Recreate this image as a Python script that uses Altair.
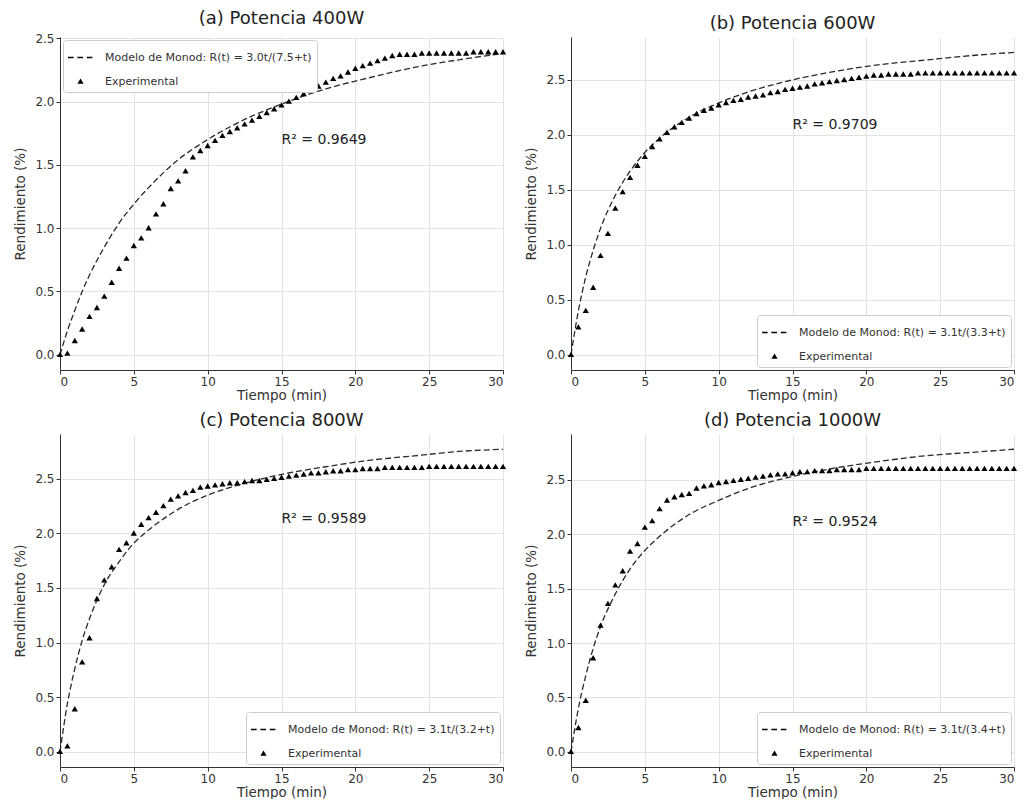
import altair as alt
import pandas as pd

# ---------------- data ----------------
t_exp = [0, 0.5, 1, 1.5, 2, 2.5, 3, 3.5, 4, 4.5, 5, 5.5, 6, 6.5, 7, 7.5, 8, 8.5, 9, 9.5,
         10, 10.5, 11, 11.5, 12, 12.5, 13, 13.5, 14, 14.5, 15, 15.5, 16, 16.5, 17, 17.5,
         18, 18.5, 19, 19.5, 20, 20.5, 21, 21.5, 22, 22.5, 23, 23.5, 24, 24.5, 25, 25.5,
         26, 26.5, 27, 27.5, 28, 28.5, 29, 29.5, 30]

exp_a = [0.00, 0.01, 0.11, 0.20, 0.30, 0.37, 0.46, 0.57, 0.68, 0.76, 0.86, 0.92, 1.00, 1.11,
         1.19, 1.31, 1.37, 1.45, 1.56, 1.61, 1.65, 1.69, 1.73, 1.76, 1.79, 1.82, 1.85, 1.88,
         1.91, 1.94, 1.97, 2.00, 2.03, 2.06, 2.09, 2.12, 2.15, 2.18, 2.20, 2.23, 2.26, 2.28,
         2.30, 2.32, 2.34, 2.36, 2.37, 2.37, 2.37, 2.38, 2.38, 2.38, 2.38, 2.38, 2.38, 2.38,
         2.39, 2.39, 2.39, 2.39, 2.39]
exp_b = [0.00, 0.25, 0.40, 0.61, 0.90, 1.10, 1.33, 1.48, 1.61, 1.72, 1.80, 1.89, 1.96, 2.02,
         2.07, 2.11, 2.15, 2.19, 2.22, 2.24, 2.27, 2.29, 2.31, 2.32, 2.34, 2.35, 2.36, 2.38,
         2.39, 2.41, 2.42, 2.43, 2.44, 2.46, 2.47, 2.48, 2.49, 2.50, 2.51, 2.52, 2.53, 2.54,
         2.54, 2.55, 2.55, 2.55, 2.55, 2.56, 2.56, 2.56, 2.56, 2.56, 2.56, 2.56, 2.56, 2.56,
         2.56, 2.56, 2.56, 2.56, 2.56]
exp_c = [0.00, 0.05, 0.39, 0.82, 1.04, 1.40, 1.57, 1.69, 1.85, 1.91, 2.00, 2.08, 2.14, 2.19,
         2.25, 2.31, 2.34, 2.37, 2.39, 2.42, 2.43, 2.44, 2.45, 2.46, 2.46, 2.47, 2.48, 2.48,
         2.49, 2.50, 2.51, 2.52, 2.53, 2.54, 2.55, 2.55, 2.56, 2.57, 2.57, 2.58, 2.58, 2.59,
         2.59, 2.59, 2.60, 2.60, 2.60, 2.60, 2.60, 2.60, 2.61, 2.61, 2.61, 2.61, 2.61, 2.61,
         2.61, 2.61, 2.61, 2.61, 2.61]
exp_d = [0.00, 0.22, 0.47, 0.86, 1.16, 1.36, 1.53, 1.66, 1.84, 1.91, 2.06, 2.12, 2.23, 2.31,
         2.34, 2.36, 2.37, 2.42, 2.44, 2.45, 2.47, 2.48, 2.49, 2.50, 2.51, 2.52, 2.53, 2.54,
         2.55, 2.55, 2.56, 2.57, 2.57, 2.58, 2.58, 2.58, 2.59, 2.59, 2.59, 2.59, 2.60, 2.60,
         2.60, 2.60, 2.60, 2.60, 2.60, 2.60, 2.60, 2.60, 2.60, 2.60, 2.60, 2.60, 2.60, 2.60,
         2.60, 2.60, 2.60, 2.60, 2.60]

t_model = [0, 0.5, 1, 1.5, 2, 3, 4, 5, 6, 8, 10, 12, 15, 18, 21, 24, 27, 30]
model_a = [0, 0.19, 0.35, 0.50, 0.63, 0.85, 1.04, 1.19, 1.32, 1.54, 1.70, 1.83, 1.98, 2.10, 2.19, 2.27, 2.33, 2.38]
model_b = [0, 0.40, 0.71, 0.95, 1.15, 1.45, 1.67, 1.84, 1.97, 2.16, 2.29, 2.39, 2.50, 2.58, 2.64, 2.68, 2.72, 2.75]
model_c = [0, 0.44, 0.76, 1.02, 1.22, 1.53, 1.74, 1.91, 2.03, 2.22, 2.35, 2.44, 2.54, 2.61, 2.67, 2.71, 2.75, 2.77]
model_d = [0, 0.40, 0.70, 0.95, 1.15, 1.45, 1.68, 1.85, 1.98, 2.18, 2.31, 2.42, 2.53, 2.61, 2.67, 2.72, 2.75, 2.78]

titles = ["(a) Potencia 400W", "(b) Potencia 600W", "(c) Potencia 800W", "(d) Potencia 1000W"]
model_labels = ["Modelo de Monod: R(t) = 3.0t/(7.5+t)",
                "Modelo de Monod: R(t) = 3.1t/(3.3+t)",
                "Modelo de Monod: R(t) = 3.1t/(3.2+t)",
                "Modelo de Monod: R(t) = 3.1t/(3.4+t)"]
r2_texts = ["R² = 0.9649", "R² = 0.9709", "R² = 0.9589", "R² = 0.9524"]
r2_x = [15, 15, 15, 15]
r2_y = [1.70, 2.09, 2.13, 2.11]
y_domains = [[-0.12, 2.51], [-0.138, 2.89], [-0.139, 2.91], [-0.139, 2.92]]
legend_orients = ["top-left", "bottom-right", "bottom-right", "bottom-right"]

x_ticks = [0, 5, 10, 15, 20, 25, 30]
y_ticks = [0.0, 0.5, 1.0, 1.5, 2.0, 2.5]

DASH = "M-1,-0.055H-0.55V0.055H-1Z M-0.25,-0.055H0.2V0.055H-0.25Z M0.5,-0.055H0.95V0.055H0.5Z"
TRI = "M0,-0.25L0.25,0.18L-0.25,0.18Z"

FONT = "DejaVu Sans"
W, H = 443, 333


def panel(i, exp, model):
    xs = alt.Scale(domain=[0, 30], nice=False)
    ys = alt.Scale(domain=y_domains[i], nice=False)
    xa = alt.Axis(title="Tiempo (min)", values=x_ticks, format="d")
    ya = alt.Axis(title="Rendimiento (%)", values=y_ticks, format=".1f")

    df_m = pd.DataFrame({"t": t_model, "R": model})
    df_e = pd.DataFrame({"t": t_exp, "R": exp, "serie": ["Experimental"] * len(t_exp)})
    df_t = pd.DataFrame({"t": [r2_x[i]], "R": [r2_y[i]], "label": [r2_texts[i]]})

    line = alt.Chart(df_m).mark_line(
        strokeDash=[6, 3], color="#2a2a2a", strokeWidth=1.3, interpolate="monotone"
    ).encode(x=alt.X("t:Q", scale=xs, axis=xa), y=alt.Y("R:Q", scale=ys, axis=ya))

    pts = alt.Chart(df_e).mark_point(
        filled=True, color="black", size=625, opacity=1, strokeWidth=0
    ).encode(
        x=alt.X("t:Q", scale=xs),
        y=alt.Y("R:Q", scale=ys),
        shape=alt.Shape(
            "serie:N",
            scale=alt.Scale(domain=[model_labels[i], "Experimental"], range=[DASH, TRI]),
            legend=alt.Legend(
                title=None, orient=legend_orients[i], offset=3, padding=5,
                fillColor="white", strokeColor="#cccccc", cornerRadius=3,
                labelFont=FONT, labelFontSize=11, labelColor="#333333",
                symbolSize=625, symbolStrokeWidth=0, symbolFillColor="black",
                symbolOpacity=1, rowPadding=6, labelOffset=12, labelLimit=400,
            ),
        ),
    )

    txt = alt.Chart(df_t).mark_text(
        align="left", baseline="middle", fontSize=14, font=FONT, color="#222222"
    ).encode(x=alt.X("t:Q", scale=xs), y=alt.Y("R:Q", scale=ys), text="label:N")

    return alt.layer(line, pts, txt).properties(
        width=W, height=H,
        title=alt.TitleParams(titles[i], fontSize=18, font=FONT, fontWeight="normal",
                              color="#222222", offset=4),
    )


pa = panel(0, exp_a, model_a)
pb = panel(1, exp_b, model_b)
pc = panel(2, exp_c, model_c)
pd_ = panel(3, exp_d, model_d)

row1 = alt.hconcat(pa, pb, spacing=17).resolve_scale(shape="independent").resolve_legend(shape="independent")
row2 = alt.hconcat(pc, pd_, spacing=17).resolve_scale(shape="independent").resolve_legend(shape="independent")

chart = alt.vconcat(row1, row2, spacing=10).resolve_scale(
    shape="independent"
).resolve_legend(shape="independent").properties(
    padding={"left": 5, "top": 2, "right": 0, "bottom": 0}
).configure_view(stroke=None).configure_axis(
    labelFont=FONT, labelFontSize=12, labelColor="#333333",
    titleFont=FONT, titleFontSize=13.5, titleFontWeight="normal", titleColor="#333333",
    gridColor="#e3e3e3", domainColor="#333333", tickColor="#333333",
    tickSize=4, labelPadding=2,
).configure_axisY(titlePadding=7).configure_axisX(titlePadding=1)

chart.save("out.html", embed_options={"renderer": "svg", "actions": False})
